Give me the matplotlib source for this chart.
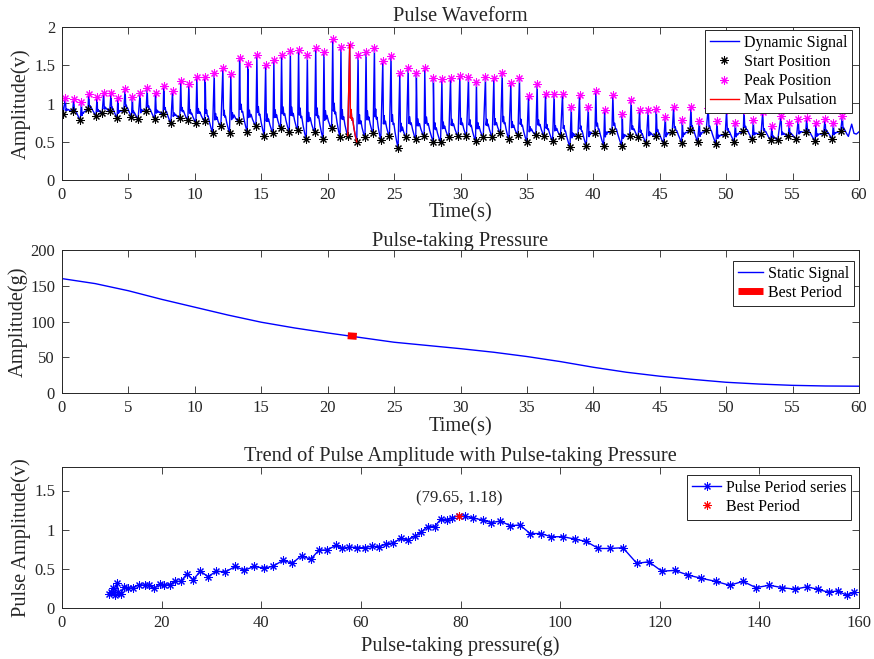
import matplotlib
matplotlib.use("Agg")
import matplotlib.pyplot as plt
from matplotlib.ticker import FuncFormatter

plt.rcParams['font.family'] = ['Liberation Serif', 'DejaVu Serif']
plt.rcParams['mathtext.fontset'] = 'dejavuserif'

# ---------------- Pulse waveform: start (foot) and peak of every beat ----------------
start_t = [0.08, 0.80, 1.38, 1.96, 2.56, 3.02, 3.59, 4.15, 4.65, 5.23, 5.73, 6.33, 6.98, 7.61,
           8.19, 8.87, 9.47, 10.08, 10.73, 11.33, 11.96, 12.61, 13.32, 13.94, 14.60, 15.23,
           15.88, 16.46, 17.11, 17.74, 18.39, 19.02, 19.65, 20.30, 20.93, 21.51, 22.19, 22.81,
           23.42, 24.00, 24.65, 25.30, 25.93, 26.63, 27.26, 27.96, 28.50, 29.12, 29.82, 30.45,
           31.13, 31.71, 32.39, 33.01, 33.64, 34.32, 34.99, 35.67, 36.30, 36.93, 37.53, 38.24,
           38.84, 39.47, 40.12, 40.78, 41.40, 42.13, 42.73, 43.38, 43.98, 44.69, 45.29, 45.94,
           46.65, 47.27, 47.85, 48.50, 49.23, 49.93, 50.61, 51.29, 51.97, 52.62, 53.35, 53.88,
           54.68, 55.28, 55.99, 56.69, 57.34, 57.99, 58.62]
start_v = [0.86, 0.90, 0.78, 0.93, 0.84, 0.87, 0.90, 0.81, 0.91, 0.83, 0.80, 0.90, 0.80, 0.86,
           0.74, 0.81, 0.78, 0.75, 0.77, 0.62, 0.70, 0.62, 0.77, 0.63, 0.71, 0.58,
           0.62, 0.68, 0.63, 0.65, 0.53, 0.63, 0.54, 0.68, 0.56, 0.58, 0.50, 0.56,
           0.61, 0.52, 0.57, 0.42, 0.56, 0.53, 0.57, 0.50, 0.50, 0.56, 0.57, 0.57,
           0.51, 0.56, 0.56, 0.61, 0.53, 0.59, 0.50, 0.59, 0.57, 0.51, 0.58, 0.43,
           0.57, 0.45, 0.61, 0.45, 0.64, 0.45, 0.57, 0.56, 0.48, 0.57, 0.48, 0.63,
           0.49, 0.65, 0.50, 0.66, 0.47, 0.60, 0.50, 0.64, 0.53, 0.60, 0.52, 0.52,
           0.57, 0.54, 0.63, 0.51, 0.61, 0.54, 0.64]
peak_t = [0.25, 0.88, 1.46, 2.01, 2.64, 3.14, 3.69, 4.20, 4.75, 5.30, 5.88, 6.41, 7.04, 7.66,
          8.32, 8.94, 9.55, 10.15, 10.78, 11.46, 12.11, 12.71, 13.37, 13.99, 14.67, 15.33,
          15.95, 16.53, 17.19, 17.81, 18.47, 19.10, 19.72, 20.38, 21.00, 21.66, 22.29, 22.89,
          23.52, 24.15, 24.77, 25.43, 26.06, 26.68, 27.31, 27.96, 28.60, 29.25, 29.95, 30.60,
          31.20, 31.88, 32.51, 33.14, 33.79, 34.44, 35.12, 35.77, 36.40, 37.05, 37.68, 38.34,
          38.96, 39.62, 40.19, 40.85, 41.47, 42.18, 42.85, 43.48, 44.13, 44.74, 45.42, 46.04,
          46.70, 47.35, 47.98, 48.65, 49.31, 50.03, 50.69, 51.34, 52.04, 52.75, 53.45, 54.13,
          54.75, 55.43, 56.06, 56.76, 57.44, 58.07, 58.75]
peak_v = [1.07, 1.06, 1.02, 1.13, 1.09, 1.14, 1.14, 1.07, 1.19, 1.09, 1.14, 1.20, 1.14, 1.23,
          1.16, 1.29, 1.26, 1.35, 1.35, 1.40, 1.46, 1.39, 1.60, 1.52, 1.63, 1.50,
          1.57, 1.63, 1.69, 1.70, 1.64, 1.73, 1.67, 1.84, 1.74, 1.77, 1.64, 1.67,
          1.73, 1.56, 1.62, 1.40, 1.47, 1.40, 1.46, 1.33, 1.32, 1.33, 1.36, 1.34,
          1.28, 1.34, 1.33, 1.40, 1.27, 1.33, 1.10, 1.25, 1.13, 1.13, 1.12, 0.96,
          1.11, 0.95, 1.16, 0.92, 1.11, 0.86, 1.04, 0.92, 0.92, 0.93, 0.83, 0.95,
          0.79, 0.95, 0.77, 0.94, 0.77, 0.91, 0.75, 0.92, 0.78, 0.89, 0.71, 0.84,
          0.75, 0.80, 0.81, 0.75, 0.80, 0.74, 0.84]
# signal at power-on and after the last detected beat
head_t = [0.0, 0.0, 0.03]
head_v = [0.0, 1.0, 0.98]
tail_t = [59.20, 59.45, 59.62, 59.80, 60.0]
tail_v = [0.57, 0.73, 0.61, 0.60, 0.63]
# decay profile of one beat after its peak (fraction of peak-to-next-foot time, fraction of amplitude)
beat_frac_t = [0.10, 0.20, 0.30, 0.40, 0.58, 0.80]
beat_frac_a = [0.20, 0.30, 0.19, 0.22, 0.13, 0.05]
max_beat = 35  # beat with the largest pulsation

# ---------------- Pulse-taking pressure (static signal) ----------------
static_t = [0, 2.5, 5, 7.5, 10, 12.5, 15, 17.5, 20, 22.5, 25, 27.5, 30, 32.5, 35, 37.5,
            40, 42.5, 45, 47.5, 50, 52.5, 55, 57.5, 60]
static_p = [160, 153, 143, 131, 120, 109, 99, 91, 84, 77.5, 71, 66.5, 62, 57, 51, 44,
            36, 29, 23.5, 19, 15, 12.5, 10.7, 9.8, 9.5]
best_period_t = [21.51, 22.19]
best_period_p = [80.1, 79.2]

# ---------------- Pulse amplitude vs. pressure ----------------
series_p = [9.44, 9.85, 10.3, 10.6, 11.05, 11.3, 11.8, 12.5, 13.3, 14.2, 15.5, 16.7, 17.5, 18.55,
            19.6, 20.5, 21.6, 22.7, 23.9, 25.1, 26.3, 27.8, 29.3, 31.0, 32.75, 34.8, 36.6, 38.5,
            40.5, 42.3, 44.4, 46.2, 48.1, 49.9, 51.6, 53.2, 55.0, 56.3, 57.7, 59.2, 60.75, 62.2,
            63.7, 65.1, 66.5, 68.0, 69.4, 70.9, 72.1, 73.4, 74.8, 76.0, 77.2, 78.3, 79.65, 81.0,
            82.6, 84.5, 86.2, 88.0, 90.0, 91.9, 94.0, 96.1, 98.2, 100.6, 102.9, 105.2, 107.7,
            110.1, 112.6, 115.4, 117.8, 120.4, 123.0, 125.7, 128.3, 131.2, 134.05, 136.7, 139.3,
            142.0, 144.6, 147.1, 149.5, 151.7, 153.9, 155.8, 157.5, 159.0]
series_a = [0.18, 0.21, 0.25, 0.17, 0.32, 0.21, 0.18, 0.27, 0.25, 0.26, 0.30, 0.29, 0.29, 0.25,
            0.31, 0.29, 0.30, 0.34, 0.34, 0.44, 0.36, 0.47, 0.40, 0.47, 0.46, 0.53, 0.48, 0.53,
            0.51, 0.53, 0.61, 0.57, 0.67, 0.62, 0.74, 0.74, 0.80, 0.76, 0.78, 0.77, 0.77, 0.79,
            0.78, 0.82, 0.83, 0.89, 0.87, 0.92, 0.97, 1.04, 1.04, 1.13, 1.12, 1.15, 1.18, 1.17,
            1.15, 1.12, 1.09, 1.11, 1.05, 1.06, 0.95, 0.95, 0.91, 0.91, 0.88, 0.85, 0.76,
            0.76, 0.77, 0.57, 0.59, 0.47, 0.48, 0.42, 0.38, 0.34, 0.29, 0.34, 0.26,
            0.29, 0.26, 0.24, 0.27, 0.24, 0.20, 0.22, 0.16, 0.20]
best_p = 79.65
best_a = 1.18

# ---------------- build the dynamic waveform from the beat landmarks ----------------
def beat_trace(i):
    ts, vs, tp, vp = start_t[i], start_v[i], peak_t[i], peak_v[i]
    if i + 1 < len(start_t):
        tn, vn = start_t[i + 1], start_v[i + 1]
    else:
        tn, vn = tail_t[0], tail_v[0]
    xs, ys = [ts, tp], [vs, vp]
    T, A = tn - tp, vp - vs
    for f, a in zip(beat_frac_t, beat_frac_a):
        xs.append(tp + f * T)
        ys.append(vs + (vn - vs) * f + a * A)
    xs.append(tn)
    ys.append(vn)
    return xs, ys

sig_t, sig_v = list(head_t), list(head_v)
for i in range(len(start_t)):
    xs, ys = beat_trace(i)
    sig_t += xs[:-1]
    sig_v += ys[:-1]
sig_t += tail_t
sig_v += tail_v

# ---------------- figure ----------------
W, H = 874, 659
fig = plt.figure(figsize=(W / 100, H / 100), dpi=100)

def px_axes(left, top, right, bottom):
    return fig.add_axes([left / W, 1 - bottom / H, (right - left) / W, (bottom - top) / H])

ax1 = px_axes(62, 27, 859, 180)
ax2 = px_axes(62, 250, 859, 393)
ax3 = px_axes(62, 467, 859, 608)

dark = '#262626'
fmt = FuncFormatter(lambda v, p: '%g' % v)
TXT = 14.7
TICK = 12
STAR = dict(marker=(8, 2, 0), ms=5.8, mew=0.75)

def style(ax):
    for s in ax.spines.values():
        s.set_color(dark)
        s.set_linewidth(0.7)
    ax.tick_params(direction='in', top=True, right=True, length=5, width=0.6,
                   colors=dark, labelsize=TICK, labelcolor=dark, pad=5)
    ax.yaxis.set_major_formatter(fmt)
    ax.xaxis.set_major_formatter(fmt)

legend_kw = dict(fontsize=11.5, frameon=True, fancybox=False, framealpha=1,
                 edgecolor=dark, borderaxespad=0, borderpad=0.3, handletextpad=0.3,
                 labelspacing=0.2)

# --- panel 1 ---
ax1.plot(sig_t, sig_v, color='#0000ff', lw=1.0, label='Dynamic Signal')
ax1.plot(start_t, start_v, linestyle='none', color='black', label='Start Position', **STAR)
ax1.plot(peak_t, peak_v, linestyle='none', color='#ff00ff', label='Peak Position', **STAR)
mx, my = beat_trace(max_beat)
ax1.plot(mx, my, color='#ff0000', lw=1.0, label='Max Pulsation')
ax1.set_xlim(0, 60)
ax1.set_ylim(0, 2)
ax1.set_xticks(range(0, 61, 5))
ax1.set_yticks([0, 0.5, 1, 1.5, 2])
style(ax1)
ax1.set_title('Pulse Waveform', fontsize=TXT, color=dark, pad=4)
ax1.set_xlabel('Time(s)', fontsize=TXT, color=dark)
ax1.xaxis.set_label_coords(0.5, -23 / 153)
ax1.set_ylabel('Amplitude(v)', fontsize=TXT, color=dark)
ax1.yaxis.set_label_coords(-31 / 797, 0.5)
leg1 = ax1.legend(loc='upper right', bbox_to_anchor=(0.991, 0.98), handlelength=1.8,
                  **legend_kw)
leg1.get_frame().set_linewidth(0.7)

# --- panel 2 ---
ax2.plot(static_t, static_p, color='#0000ff', lw=1.0, label='Static Signal')
ax2.plot(best_period_t, best_period_p, color='#ff0000', lw=5, solid_capstyle='butt',
         label='Best Period')
ax2.set_xlim(0, 60)
ax2.set_ylim(0, 200)
ax2.set_xticks(range(0, 61, 5))
ax2.set_yticks(range(0, 201, 50))
style(ax2)
ax2.set_title('Pulse-taking Pressure', fontsize=TXT, color=dark, pad=3)
ax2.set_xlabel('Time(s)', fontsize=TXT, color=dark)
ax2.xaxis.set_label_coords(0.5, -24 / 143)
ax2.set_ylabel('Amplitude(g)', fontsize=TXT, color=dark)
ax2.yaxis.set_label_coords(-34 / 797, 0.5)
leg2 = ax2.legend(loc='upper right', bbox_to_anchor=(0.994, 0.925), handlelength=1.6,
                  **legend_kw)
leg2.get_frame().set_linewidth(0.7)

# --- panel 3 ---
ax3.plot(series_p, series_a, color='#0000ff', lw=1.0, label='Pulse Period series', **STAR)
ax3.plot([best_p], [best_a], linestyle='none', color='#ff0000', label='Best Period', **STAR)
ax3.text(best_p, best_a + 0.22, '(%.2f, %.2f)' % (best_p, best_a), ha='center', va='center',
         fontsize=12, color=dark)
ax3.set_xlim(0, 160)
ax3.set_ylim(0, 1.8)
ax3.set_xticks(range(0, 161, 20))
ax3.set_yticks([0, 0.5, 1, 1.5])
style(ax3)
ax3.set_title('Trend of Pulse Amplitude with Pulse-taking Pressure', fontsize=TXT,
              color=dark, pad=4)
ax3.set_xlabel('Pulse-taking pressure(g)', fontsize=TXT, color=dark)
ax3.xaxis.set_label_coords(0.5, -28 / 141)
ax3.set_ylabel('Pulse Amplitude(v)', fontsize=TXT, color=dark)
ax3.yaxis.set_label_coords(-31 / 797, 0.5)
leg3 = ax3.legend(loc='upper right', bbox_to_anchor=(0.99, 0.943), handlelength=1.8,
                  **legend_kw)
leg3.get_frame().set_linewidth(0.7)

fig.savefig('out.png', dpi=100)
